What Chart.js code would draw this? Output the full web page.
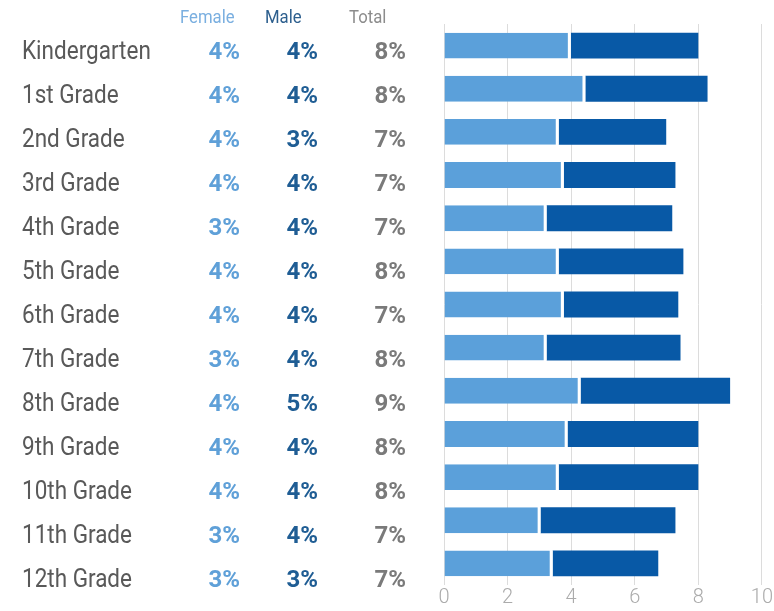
<!DOCTYPE html>
<html>
<head>
<meta charset="utf-8">
<script src="https://cdn.jsdelivr.net/npm/chart.js@4/dist/chart.umd.min.js"></script>
<style>
  html, body { margin: 0; padding: 0; background: #ffffff; }
  #wrap { width: 774px; height: 611px; position: relative; }
</style>
</head>
<body>
<div id="wrap"><canvas id="c" width="774" height="611"></canvas></div>
<script>
// ---- data ----
const categories = ["Kindergarten", "1st Grade", "2nd Grade", "3rd Grade", "4th Grade", "5th Grade",
  "6th Grade", "7th Grade", "8th Grade", "9th Grade", "10th Grade", "11th Grade", "12th Grade"];
const femaleValues = [3.99, 4.45, 3.61, 3.77, 3.23, 3.61, 3.77, 3.23, 4.30, 3.89, 3.61, 3.04, 3.42];
const maleValues   = [4.01, 3.84, 3.38, 3.51, 3.95, 3.92, 3.60, 4.21, 4.70, 4.11, 4.39, 4.24, 3.32];
const femaleText = ["4%", "4%", "4%", "4%", "3%", "4%", "4%", "3%", "4%", "4%", "4%", "3%", "3%"];
const maleText   = ["4%", "4%", "3%", "4%", "4%", "4%", "4%", "4%", "5%", "4%", "4%", "4%", "3%"];
const totalText  = ["8%", "8%", "7%", "7%", "7%", "8%", "7%", "8%", "9%", "8%", "8%", "7%", "7%"];
const columnHeaders = ["Female", "Male", "Total"];
const xTicks = [0, 2, 4, 6, 8, 10];

const LIGHT = "#5ba0da";
const DARK = "#0859a6";

const tablePlugin = {
  id: "tablePlugin",
  afterDraw(chart) {
    const ctx = chart.ctx;
    const baseY = 58.5, step = 44;
    ctx.save();
    // headers
    ctx.textBaseline = "alphabetic";
    ctx.textAlign = "left";
    ctx.font = "19px Roboto";
    const hx = [180, 265, 349];
    const hc = ["#7aafe0", "#2d5f8e", "#8c8c8c"];
    columnHeaders.forEach((h, i) => {
      ctx.save();
      ctx.translate(hx[i], 23);
      ctx.scale(0.88, 1);
      ctx.fillStyle = hc[i];
      ctx.fillText(h, 0, 0);
      ctx.restore();
    });
    categories.forEach((cat, i) => {
      const y = baseY + step * i;
      // category label
      ctx.save();
      ctx.translate(22, y);
      ctx.scale(0.9, 1);
      ctx.font = "25px Roboto";
      ctx.fillStyle = "#595959";
      ctx.textAlign = "left";
      ctx.fillText(cat, 0, 0);
      ctx.restore();
      // numbers
      ctx.font = "bold 24px Roboto";
      ctx.textAlign = "right";
      ctx.fillStyle = "#5fa0d8";
      ctx.fillText(femaleText[i], 240, y);
      ctx.fillStyle = "#1f5d94";
      ctx.fillText(maleText[i], 318, y);
      ctx.fillStyle = "#7a7a7a";
      ctx.fillText(totalText[i], 406, y);
    });
    ctx.restore();
  }
};

new Chart(document.getElementById("c"), {
  type: "bar",
  data: {
    labels: categories,
    datasets: [
      {
        label: "Female",
        data: femaleValues,
        backgroundColor: LIGHT,
        borderColor: "#ffffff",
        borderWidth: { top: 0, right: 3, bottom: 0, left: 0 },
        borderSkipped: false,
        barPercentage: 0.6,
        categoryPercentage: 1.0
      },
      {
        label: "Male",
        data: maleValues,
        backgroundColor: DARK,
        borderWidth: 0,
        barPercentage: 0.6,
        categoryPercentage: 1.0
      }
    ]
  },
  options: {
    indexAxis: "y",
    responsive: false,
    animation: false,
    layout: { padding: { left: 444, right: 0, top: 24, bottom: 0 } },
    plugins: { legend: { display: false }, tooltip: { enabled: false } },
    scales: {
      y: {
        stacked: true,
        display: false
      },
      x: {
        stacked: true,
        min: 0,
        max: 10,
        afterBuildTicks(scale) { scale.ticks = xTicks.map(v => ({ value: v })); },
        border: { display: false },
        grid: { color: "#dcdcdc", lineWidth: 1, drawTicks: false },
        ticks: {
          padding: 1,
          color: "#ababab",
          font: { family: "Roboto", size: 20, weight: "300" }
        }
      }
    }
  },
  plugins: [tablePlugin]
});
</script>
</body>
</html>
